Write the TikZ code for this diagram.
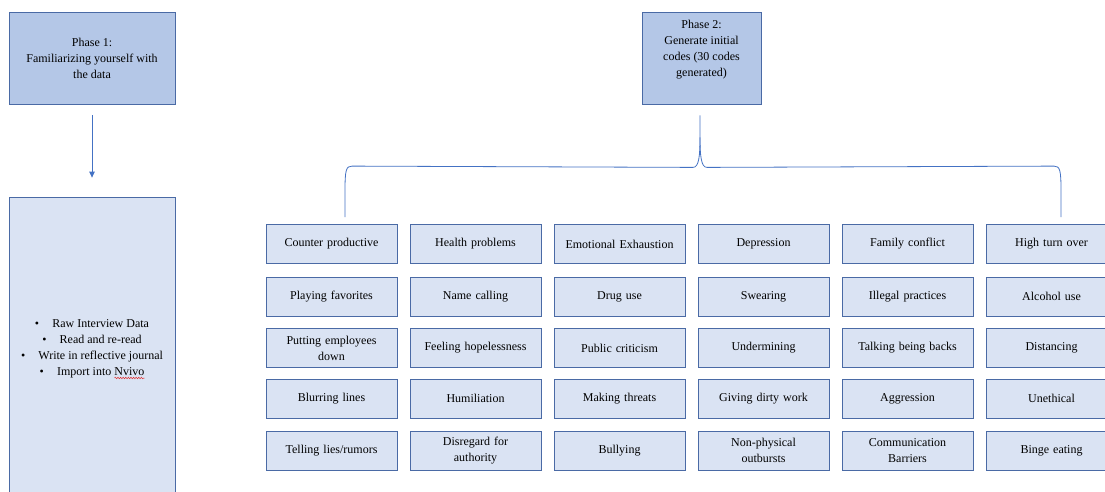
\documentclass[tikz,border=0pt]{standalone}
\usepackage{fontspec}
\setmainfont{Liberation Serif}
\usetikzlibrary{arrows.meta,decorations.pathmorphing}
\definecolor{phasefill}{HTML}{B4C7E7}
\definecolor{codefill}{HTML}{DAE3F3}
\definecolor{boxline}{HTML}{4A6AA5}
\definecolor{linkline}{HTML}{4472C4}
\definecolor{spellred}{HTML}{E03030}
\tikzset{
  txt/.style={font=\fontsize{12}{16}\selectfont},
  basebox/.style={draw=boxline, line width=0.8pt, align=center, inner sep=2pt, txt},
  phasebox/.style={basebox, fill=phasefill, minimum width=166pt, minimum height=92pt},
  listbox/.style={basebox, fill=codefill, minimum width=166pt, minimum height=300pt},
  codebox/.style={basebox, fill=codefill, minimum width=129pt, minimum height=39pt,
    text width=127pt},
  link/.style={draw=linkline, line width=0.8pt},
  listline/.style={txt, inner sep=0pt, anchor=base},
}
\begin{document}
\begin{tikzpicture}[x=1pt,y=-1pt]
\useasboundingbox (0,0) rectangle (1105,492);
\clip (0,0) rectangle (1105,492);
\fill[white] (0,0) rectangle (1105,492);

% Phase 1 and its activities
\node[phasebox] (p1) at (92,58) {Phase 1:\\Familiarizing yourself with\\the data};
\node[listbox] (acts) at (92,347) {};
\node[listline] (l1) at (92,327) {\textbullet\hspace{1.1em}Raw Interview Data};
\node[listline] (l2) at (92,343) {\textbullet\hspace{1.1em}Read and re-read};
\node[listline] (l3) at (92,359) {\textbullet\hspace{1.1em}Write in reflective journal};
\node[listline] (l4) at (92,375) {\textbullet\hspace{1.1em}Import into Nvivo};
% spell-check underline below the last word
\draw[spellred, line width=0.5pt, decorate,
      decoration={snake, amplitude=0.8pt, segment length=2.6pt}]
  ([xshift=-30pt,yshift=-3pt]l4.base east) -- ([yshift=-3pt]l4.base east);
\draw[link, -{Triangle[length=6pt,width=5.5pt]}]
  ([yshift=-11pt]p1.south) -- ([yshift=19pt]acts.north);

% Phase 2
\node[phasebox, minimum width=119pt] (p2) at (701.5,58) {};
\node[txt, align=center] (p2text) at (701.5,50)
  {Phase 2:\\Generate initial\\codes (30 codes\\generated)};

% Codes grid
\def\rowA{244}\def\rowB{296.5}\def\rowC{348}\def\rowD{398.5}\def\rowE{450.5}
\foreach \name/\x/\y/\label in {
  c11/331.5/\rowA/Counter productive,
  c12/475.5/\rowA/Health problems,
  c13/619.5/\rowA/Emotional Exhaustion,
  c14/763.5/\rowA/Depression,
  c15/907.5/\rowA/Family conflict,
  c16/1051.5/\rowA/High turn over,
  c21/331.5/\rowB/Playing favorites,
  c22/475.5/\rowB/Name calling,
  c23/619.5/\rowB/Drug use,
  c24/763.5/\rowB/Swearing,
  c25/907.5/\rowB/Illegal practices,
  c26/1051.5/\rowB/Alcohol use,
  c31/331.5/\rowC/Putting employees\\down,
  c32/475.5/\rowC/Feeling hopelessness,
  c33/619.5/\rowC/Public criticism,
  c34/763.5/\rowC/Undermining,
  c35/907.5/\rowC/Talking being backs,
  c36/1051.5/\rowC/Distancing,
  c41/331.5/\rowD/Blurring lines,
  c42/475.5/\rowD/Humiliation,
  c43/619.5/\rowD/Making threats,
  c44/763.5/\rowD/Giving dirty work,
  c45/907.5/\rowD/Aggression,
  c46/1051.5/\rowD/Unethical,
  c51/331.5/\rowE/{Telling lies/rumors},
  c52/475.5/\rowE/Disregard for\\authority,
  c53/619.5/\rowE/Bullying,
  c54/763.5/\rowE/Non-physical\\outbursts,
  c55/907.5/\rowE/Communication\\Barriers,
  c56/1051.5/\rowE/Binge eating}
  \node[codebox] (\name) at (\x,\y) {\label};

% Brace from Phase 2 over the codes
\coordinate (bl) at ([xshift=13.5pt,yshift=7pt]c11.north);
\coordinate (br) at ([xshift=9.5pt,yshift=7pt]c16.north);
\coordinate (bt) at ([xshift=-1.5pt,yshift=-11pt]p2.south);
\draw[link]
  (bl) -- ([yshift=26pt]bl)
  .. controls ([yshift=47pt]bl) and ([xshift=1pt,yshift=51pt]bl) .. ([xshift=7pt,yshift=51pt]bl)
  -- ([xshift=-7pt,yshift=-52pt]bt)
  .. controls ([xshift=-1pt,yshift=-52pt]bt) and ([yshift=-40pt]bt) .. ([yshift=-22pt]bt)
  -- (bt);
\draw[link]
  ([yshift=-22pt]bt)
  .. controls ([yshift=-40pt]bt) and ([xshift=1pt,yshift=-52pt]bt) .. ([xshift=7pt,yshift=-52pt]bt)
  -- ([xshift=-7pt,yshift=51pt]br)
  .. controls ([xshift=-1pt,yshift=51pt]br) and ([yshift=47pt]br) .. ([yshift=26pt]br)
  -- (br);
\end{tikzpicture}
\end{document}
